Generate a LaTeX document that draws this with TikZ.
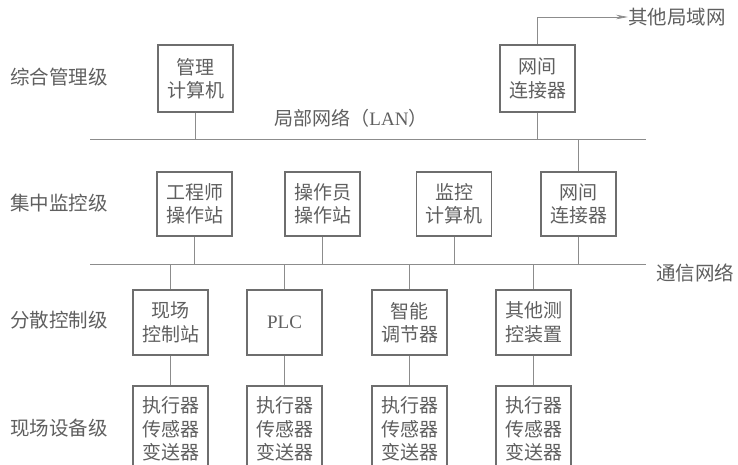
\documentclass[tikz,border=0pt]{standalone}
\usepackage{fontspec}
\setmainfont{Liberation Serif}
\newfontfamily\cjk{Noto Sans CJK SC}
\usetikzlibrary{arrows.meta}
\definecolor{txt}{RGB}{95,95,95}
\definecolor{edge}{RGB}{110,110,110}
\definecolor{wire}{RGB}{140,140,140}
\begin{document}
\begin{tikzpicture}[x=1pt,y=-1pt,
  box/.style={draw=edge,line width=1.5pt,minimum width=75pt,minimum height=65pt,inner sep=0pt,align=center,text=txt,font=\cjk\fontsize{19}{23.5}\selectfont},
  lvl/.style={anchor=west,text=txt,inner sep=0pt,font=\cjk\fontsize{19.5}{23}\selectfont},
  wirel/.style={draw=wire,line width=0.7pt}]
\path[use as bounding box,clip] (0,0) rectangle (738,464);
% level labels
\node[lvl] (L1) at (10,77) {综合管理级};
\node[lvl] (L2) at (10,203) {集中监控级};
\node[lvl] (L3) at (10,320) {分散控制级};
\node[lvl] (L4) at (10,428) {现场设备级};
% buses
\coordinate (lanL) at (90,139);
\coordinate (lanR) at (646,139);
\coordinate (comL) at (90,264);
\coordinate (comR) at (646,264);
\draw[wirel] (lanL) -- (lanR);
\draw[wirel] (comL) -- (comR);
\node[text=txt,inner sep=0pt,font=\fontsize{19}{23}\selectfont] (lan) at (351,118) {{\cjk 局部网络（}LAN{\cjk ）}};
\node[lvl] (com) at (656,273) {通信网络};
% level 1
\node[box,minimum height=67pt] (m1) at (195.5,78.5) {管理\\计算机};
\node[box,minimum height=67pt] (g1) at (537.5,78.5) {网间\\连接器};
\node[lvl] (other) at (628,17) {其他局域网};
% level 2
\node[box,minimum height=64pt] (e2) at (194.5,204) {工程师\\操作站};
\node[box,minimum height=64pt] (o2) at (322.5,204) {操作员\\操作站};
\node[box,minimum height=64pt] (s2) at (454,204) {监控\\计算机};
\node[box,minimum height=64pt] (g2) at (578.5,204) {网间\\连接器};
% level 3
\node[box] (c1) at (170.5,322.5) {现场\\控制站};
\node[box,font=\fontsize{19}{23.5}\selectfont] (c2) at (284.5,322.5) {PLC};
\node[box] (c3) at (409.5,322.5) {智能\\调节器};
\node[box] (c4) at (533.5,322.5) {其他测\\控装置};
% level 4
\node[box,minimum height=86pt] (d1) at (170.5,429) {执行器\\传感器\\变送器};
\node[box,minimum height=86pt] (d2) at (284.5,429) {执行器\\传感器\\变送器};
\node[box,minimum height=86pt] (d3) at (409.5,429) {执行器\\传感器\\变送器};
\node[box,minimum height=86pt] (d4) at (533.5,429) {执行器\\传感器\\变送器};
% connectors
\begin{scope}[xshift=-2.5pt]
\draw[wirel] (m1.south) -- (m1.south |- lanL);
\draw[wirel] (g1.south) -- (g1.south |- lanL);
\draw[wirel,-{Stealth[length=12pt,width=4.5pt]}] (g1.north) |- (other.west);
\foreach \n in {e2,o2,s2,g2} \draw[wirel] (\n.south) -- (\n.south |- comL);
\end{scope}
\begin{scope}[xshift=3.5pt]
\draw[wirel] (g2.north) -- (g2.north |- lanL);
\end{scope}
\begin{scope}[xshift=-3pt]
\foreach \n in {c1,c2,c3,c4} \draw[wirel] (\n.north) -- (\n.north |- comL);
\draw[wirel] (c1.south) -- (d1.north);
\draw[wirel] (c2.south) -- (d2.north);
\draw[wirel] (c3.south) -- (d3.north);
\draw[wirel] (c4.south) -- (d4.north);
\end{scope}
\end{tikzpicture}
\end{document}
